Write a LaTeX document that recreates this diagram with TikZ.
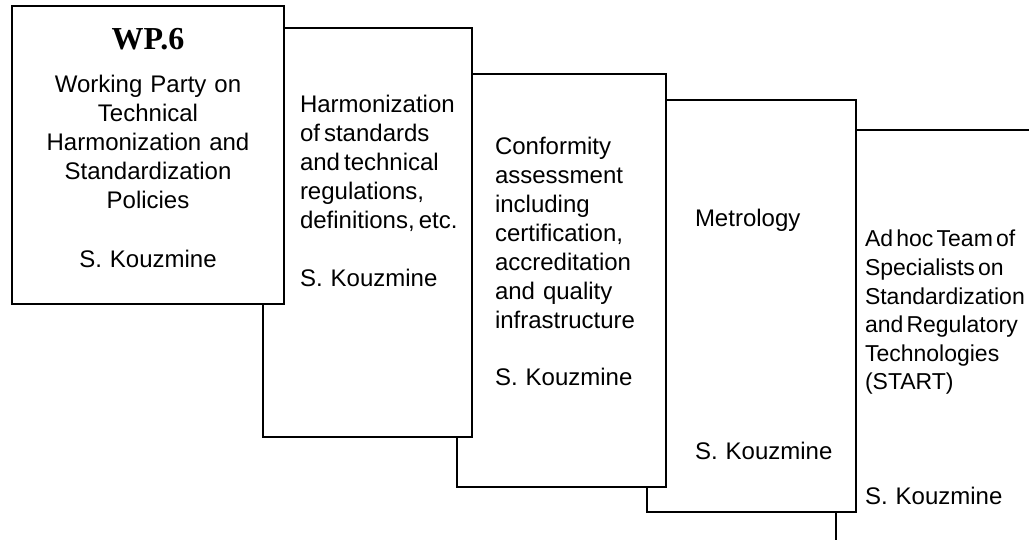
\documentclass[tikz,border=0pt]{standalone}
\usepackage{fontspec}
\setmainfont{Liberation Sans}
\newfontfamily\wpfont{Liberation Serif}
\newcommand\tightsp[1]{\spaceskip=#1em plus 0.05em\relax}
\tikzset{
  boxshape/.style={draw, fill=white, line width=1.5pt, rectangle, inner sep=0pt, outer sep=0pt, anchor=north west},
  txt/.style={inner sep=0pt, outer sep=0pt, font=\fontsize{24}{29}\selectfont, text width=240pt, align=left, anchor=base west},
  narrowtxt/.style={inner sep=0pt, outer sep=0pt, font=\fontsize{23}{28.6}\selectfont, text width=240pt, align=left, anchor=base west},
  centertxt/.style={inner sep=0pt, outer sep=0pt, font=\fontsize{24}{29}\selectfont, text width=272pt, align=center, anchor=base},
  titletxt/.style={inner sep=0pt, outer sep=0pt, font=\fontsize{32}{36}\selectfont\wpfont\bfseries, anchor=base},
}
\begin{document}
\begin{tikzpicture}[x=1pt,y=-1pt]
\useasboundingbox (0,0) rectangle (1029,540);
\clip (0,0) rectangle (1029,540);
% box 5
\node[boxshape, minimum width=220pt, minimum height=430pt] (b5) at (836,130) {};
\node[narrowtxt] (t5) at (865,247) {\tightsp{0.14}Ad hoc Team of\\Specialists on\\Standardization\\and Regulatory\\Technologies\\(START)};
\node[txt] (n5) at (865,504) {S. Kouzmine};
% box 4
\node[boxshape, minimum width=209pt, minimum height=412pt] (b4) at (647,100) {};
\node[txt] (t4) at (695,227) {Metrology};
\node[txt] (n4) at (695,459) {S. Kouzmine};
% box 3
\node[boxshape, minimum width=209pt, minimum height=413pt] (b3) at (457,74) {};
\node[txt] (t3) at (495,155) {Conformity\\assessment\\including\\certification,\\accreditation\\and quality\\infrastructure};
\node[txt] (n3) at (495,385) {S. Kouzmine};
% box 2
\node[boxshape, minimum width=209pt, minimum height=409pt] (b2) at (263,28) {};
\node[txt] (t2) at (300,113) {\tightsp{0.17}Harmonization\\of standards\\and technical\\regulations,\\definitions, etc.};
\node[txt] (n2) at (300,287) {S. Kouzmine};
% box 1
\node[boxshape, minimum width=272pt, minimum height=298pt] (b1) at (12,6) {};
\node[titletxt] (w1) at (148,50) {WP.6};
\node[centertxt] (t1) at (148,93) {Working Party on\\Technical\\Harmonization and\\Standardization\\Policies};
\node[centertxt] (n1) at (148,268) {S. Kouzmine};
\end{tikzpicture}
\end{document}
